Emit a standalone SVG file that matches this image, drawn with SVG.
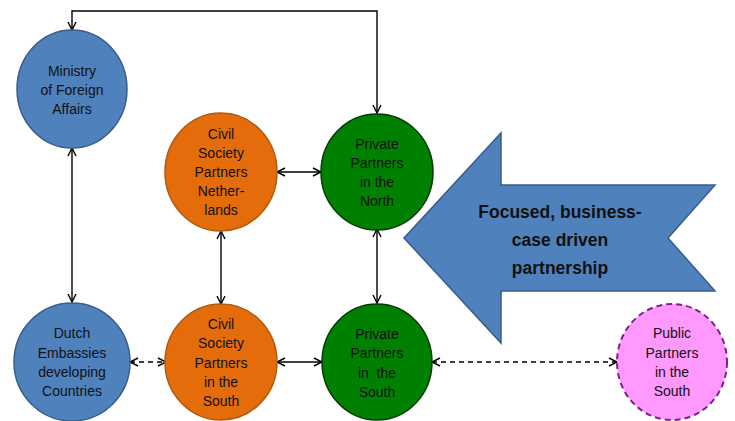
<svg xmlns="http://www.w3.org/2000/svg" width="735" height="421" viewBox="0 0 735 421">
<defs>
<marker id="arr" viewBox="0 0 10 10" refX="9" refY="5" markerWidth="10" markerHeight="10" markerUnits="userSpaceOnUse" orient="auto-start-reverse">
<path d="M1,1 L9,5 L1,9" fill="none" stroke="#000" stroke-width="1.4"/>
</marker>
<style>
.lbl{font-family:"Liberation Sans",Arial,sans-serif;font-size:14px;fill:#111;text-anchor:middle}
.big{font-family:"Liberation Sans",Arial,sans-serif;font-size:17.5px;font-weight:bold;fill:#111;text-anchor:middle}
.blue{fill:#4F81BD;stroke:#385D8A;stroke-width:1.5}
.orange{fill:#E46C0A;stroke:#B05A10;stroke-width:1.5}
.green{fill:#008000;stroke:#003A00;stroke-width:1.5}
.pink{fill:#FF99FF;stroke:#7F1F8F;stroke-width:2;stroke-dasharray:6 4}
.con{fill:none;stroke:#000;stroke-width:1.4;marker-start:url(#arr);marker-end:url(#arr)}
.dash{stroke-dasharray:5 4}
</style>
</defs>
<rect width="735" height="421" fill="#fff"/>

<g id="banner">
<polygon class="blue" points="404,238 501,133 501,185 715,185 668,238 715,291 501,291 501,343"/>
<text class="big" x="560" y="218">Focused, business-</text>
<text class="big" x="560" y="246">case driven</text>
<text class="big" x="560" y="274">partnership</text>
</g>

<g id="connectors">
<path class="con" d="M72,30 V11 H377 V113"/>
<path class="con" d="M72,148 V302"/>
<path class="con" d="M277,172 H321"/>
<path class="con" d="M221,231 V304"/>
<path class="con" d="M377,229 V303"/>
<path class="con dash" d="M130,362 H166"/>
<path class="con" d="M277,362 H322"/>
<path class="con dash" d="M432,362 H617"/>
</g>

<g id="ministry">
<ellipse class="blue" cx="72" cy="89" rx="55" ry="59"/>
<text class="lbl" x="72" y="76">Ministry</text>
<text class="lbl" x="72" y="95">of Foreign</text>
<text class="lbl" x="72" y="114">Affairs</text>
</g>

<g id="civil-nl">
<ellipse class="orange" cx="221" cy="172" rx="56" ry="59"/>
<text class="lbl" x="221" y="139">Civil</text>
<text class="lbl" x="221" y="158">Society</text>
<text class="lbl" x="221" y="177">Partners</text>
<text class="lbl" x="221" y="196">Nether-</text>
<text class="lbl" x="221" y="215">lands</text>
</g>

<g id="private-north">
<ellipse class="green" cx="377" cy="172" rx="56" ry="58"/>
<text class="lbl" x="377" y="149">Private</text>
<text class="lbl" x="377" y="168">Partners</text>
<text class="lbl" x="377" y="187">in the</text>
<text class="lbl" x="377" y="206">North</text>
</g>

<g id="dutch-embassies">
<ellipse class="blue" cx="72" cy="362" rx="58" ry="59"/>
<text class="lbl" x="72" y="338">Dutch</text>
<text class="lbl" x="72" y="358">Embassies</text>
<text class="lbl" x="72" y="377">developing</text>
<text class="lbl" x="72" y="396">Countries</text>
</g>

<g id="civil-south">
<ellipse class="orange" cx="221" cy="362" rx="56" ry="58"/>
<text class="lbl" x="221" y="329">Civil</text>
<text class="lbl" x="221" y="348">Society</text>
<text class="lbl" x="221" y="368">Partners</text>
<text class="lbl" x="221" y="387">in the</text>
<text class="lbl" x="221" y="406">South</text>
</g>

<g id="private-south">
<ellipse class="green" cx="377" cy="362" rx="55" ry="58"/>
<text class="lbl" x="377" y="339">Private</text>
<text class="lbl" x="377" y="358">Partners</text>
<text class="lbl" x="377" y="378">in&#160; the</text>
<text class="lbl" x="377" y="397">South</text>
</g>

<g id="public-south">
<ellipse class="pink" cx="672" cy="362" rx="55" ry="58"/>
<text class="lbl" x="672" y="338">Public</text>
<text class="lbl" x="672" y="358">Partners</text>
<text class="lbl" x="672" y="377">in the</text>
<text class="lbl" x="672" y="396">South</text>
</g>
</svg>
